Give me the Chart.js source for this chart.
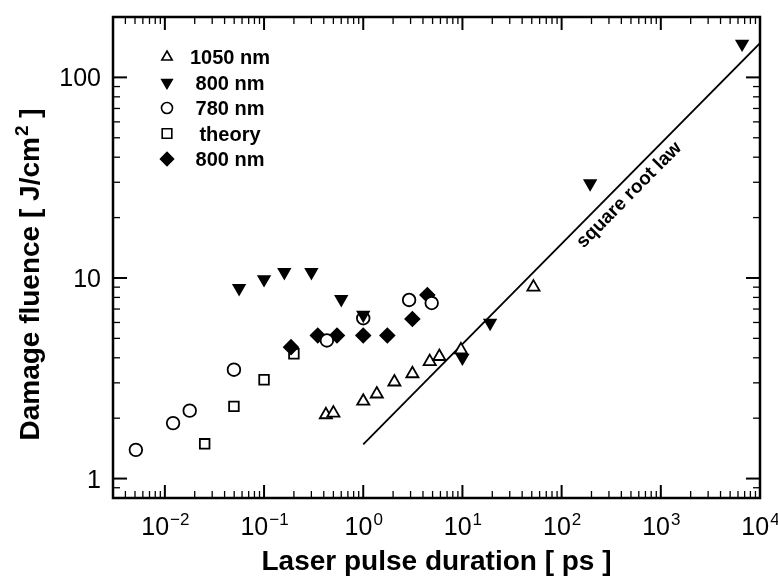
<!DOCTYPE html>
<html>
<head>
<meta charset="utf-8">
<script src="https://cdn.jsdelivr.net/npm/chart.js@4.4.1/dist/chart.umd.min.js"></script>
<style>
  html, body { margin: 0; padding: 0; background: #fff; }
  canvas { display: block; }
</style>
</head>
<body>
<canvas id="fluenceChart" width="778" height="579"></canvas>
<script>
// ── data (pulse duration in ps, fluence in J/cm²) ──
const tri1050X  = [0.42, 0.50, 1.0, 1.37, 2.06, 3.13, 4.68, 5.85, 9.66, 52];
const tri1050Y  = [2.08, 2.12, 2.43, 2.64, 3.03, 3.33, 3.83, 4.06, 4.38, 9.0];
const inv800X   = [0.056, 0.10, 0.16, 0.30, 0.60, 1.0, 10, 19, 194, 6600];
const inv800Y   = [8.9, 9.85, 10.7, 10.7, 7.84, 6.55, 4.0, 5.97, 29.6, 147];
const circ780X  = [0.0051, 0.0121, 0.0178, 0.0497, 0.43, 1.0, 2.9, 4.9];
const circ780Y  = [1.39, 1.89, 2.18, 3.49, 4.88, 6.3, 7.77, 7.5];
const theoryX   = [0.0252, 0.0497, 0.10, 0.20];
const theoryY   = [1.49, 2.29, 3.11, 4.19];
const diam800X  = [0.187, 0.348, 0.544, 1.0, 1.75, 3.13, 4.43];
const diam800Y  = [4.52, 5.17, 5.17, 5.17, 5.17, 6.25, 8.23];
const lawX      = [1, 10000];
const lawY      = [1.48, 148];

const legendLabels = ['1050 nm', '800 nm', '780 nm', 'theory', '800 nm'];
const xTickExps    = [-2, -1, 0, 1, 2, 3, 4];
const yTickVals    = [1, 10, 100];
const xTitle = 'Laser pulse duration [ ps ]';
const yTitle = ['Damage fluence [ J/cm', '2', ' ]'];
const lineLabel = 'square root law';
const lineLabelAt = { x: 480, y: 25.9 };

const FONT = '"Liberation Sans", Arial, Helvetica, sans-serif';

const pts = (xs, ys) => xs.map((x, i) => ({ x, y: ys[i] }));

const styles = [
  { pointStyle: 'triangle', rotation: 0,   fill: '#fff', r: 7,   lr: 6 },
  { pointStyle: 'triangle', rotation: 180, fill: '#000', r: 6.5, lr: 6 },
  { pointStyle: 'circle',   rotation: 0,   fill: '#fff', r: 6.3, lr: 5.5 },
  { pointStyle: 'rect',     rotation: 0,   fill: 'rgba(0,0,0,0)', r: 6.8, lr: 6.8 },
  { pointStyle: 'rectRot',  rotation: 0,   fill: '#000', r: 7,   lr: 6.5 },
];

function markerSet(label, data, s, order) {
  return {
    label, data, order, showLine: false,
    pointStyle: s.pointStyle, rotation: s.rotation,
    pointRadius: s.r, pointHoverRadius: s.r,
    pointBackgroundColor: s.fill, pointBorderColor: '#000', pointBorderWidth: 1.8,
  };
}

// ticks, frame, tick labels, titles and legend
const decor = {
  id: 'decor',
  afterDatasetsDraw(chart) {
    const { ctx, chartArea: a, scales: { x, y } } = chart;
    ctx.save();
    ctx.fillStyle = '#000';
    ctx.strokeStyle = '#000';

    const seg = (x1, y1, x2, y2) => { ctx.beginPath(); ctx.moveTo(x1, y1); ctx.lineTo(x2, y2); ctx.stroke(); };

    // x ticks (inside, both edges)
    for (let d = -3; d <= 4; d++) {
      for (let m = 1; m <= 9; m++) {
        const v = m * Math.pow(10, d);
        if (v < x.min * 0.999 || v > x.max * 1.001) continue;
        const px = x.getPixelForValue(v);
        const len = m === 1 ? 13 : 7;
        ctx.lineWidth = m === 1 ? 2 : 1.3;
        seg(px, a.bottom, px, a.bottom - len);
        seg(px, a.top, px, a.top + len);
      }
    }
    // y ticks
    for (let d = -1; d <= 2; d++) {
      for (let m = 1; m <= 9; m++) {
        const v = m * Math.pow(10, d);
        if (v < y.min * 0.999 || v > y.max * 1.001) continue;
        const py = y.getPixelForValue(v);
        const len = m === 1 ? 14 : 7;
        ctx.lineWidth = m === 1 ? 2 : 1.3;
        seg(a.left, py, a.left + len, py);
        seg(a.right, py, a.right - len, py);
      }
    }
    ctx.lineWidth = 2.5;
    ctx.strokeRect(a.left, a.top, a.right - a.left, a.bottom - a.top);

    // x tick labels 10^n
    ctx.textBaseline = 'alphabetic';
    ctx.textAlign = 'left';
    xTickExps.forEach(e => {
      const px = x.getPixelForValue(Math.pow(10, e));
      const base = '10', exp = e < 0 ? '\u2212' + (-e) : String(e);
      ctx.font = '25px ' + FONT;
      const wb = ctx.measureText(base).width;
      ctx.font = '17px ' + FONT;
      const we = ctx.measureText(exp).width;
      const x0 = px - (wb + we) / 2;
      ctx.font = '25px ' + FONT;
      ctx.fillText(base, x0, a.bottom + 37);
      ctx.font = '17px ' + FONT;
      ctx.fillText(exp, x0 + wb + 1, a.bottom + 27);
    });

    // y tick labels
    ctx.font = '25px ' + FONT;
    ctx.textAlign = 'right';
    yTickVals.forEach(v => {
      const py = y.getPixelForValue(v);
      ctx.fillText(String(v), a.left - 12, py + 9);
    });

    // x title
    ctx.font = 'bold 28px ' + FONT;
    ctx.textAlign = 'center';
    ctx.fillText(xTitle, (a.left + a.right) / 2, 570);

    // y title with superscript
    ctx.save();
    ctx.translate(39, 275);
    ctx.rotate(-Math.PI / 2);
    ctx.textAlign = 'left';
    ctx.font = 'bold 28px ' + FONT;
    const w0 = ctx.measureText(yTitle[0]).width;
    const w2 = ctx.measureText(yTitle[2]).width;
    ctx.font = 'bold 19px ' + FONT;
    const w1 = ctx.measureText(yTitle[1]).width;
    let tx = -(w0 + w1 + w2) / 2;
    ctx.font = 'bold 28px ' + FONT;
    ctx.fillText(yTitle[0], tx, 0);
    tx += w0;
    ctx.font = 'bold 19px ' + FONT;
    ctx.fillText(yTitle[1], tx + 1, -11);
    tx += w1 + 1;
    ctx.font = 'bold 28px ' + FONT;
    ctx.fillText(yTitle[2], tx, 0);
    ctx.restore();

    // label along the square root law line
    const p1 = { x: x.getPixelForValue(lawX[0]), y: y.getPixelForValue(lawY[0]) };
    const p2 = { x: x.getPixelForValue(lawX[1]), y: y.getPixelForValue(lawY[1]) };
    const ang = Math.atan2(p2.y - p1.y, p2.x - p1.x);
    ctx.save();
    ctx.translate(x.getPixelForValue(lineLabelAt.x), y.getPixelForValue(lineLabelAt.y));
    ctx.rotate(ang);
    ctx.font = 'bold 19px ' + FONT;
    ctx.textAlign = 'center';
    ctx.textBaseline = 'middle';
    ctx.fillText(lineLabel, 0, 0);
    ctx.restore();

    // legend
    legendLabels.forEach((lab, i) => {
      const s = styles[i];
      const ly = 57 + i * 25.5;
      ctx.fillStyle = s.fill;
      ctx.strokeStyle = '#000';
      ctx.lineWidth = 1.6;
      Chart.helpers.drawPoint(ctx, { pointStyle: s.pointStyle, rotation: s.rotation, radius: s.lr, borderWidth: 1.6 }, 167, ly);
      ctx.fillStyle = '#000';
      ctx.font = 'bold 20px ' + FONT;
      ctx.textAlign = 'center';
      ctx.textBaseline = 'alphabetic';
      ctx.fillText(lab, 230, ly + 7);
    });

    ctx.restore();
  }
};

new Chart(document.getElementById('fluenceChart'), {
  type: 'scatter',
  data: {
    datasets: [
      markerSet(legendLabels[0], pts(tri1050X, tri1050Y), styles[0], 1),
      markerSet(legendLabels[1], pts(inv800X, inv800Y), styles[1], 2),
      markerSet(legendLabels[2], pts(circ780X, circ780Y), styles[2], 3),
      markerSet(legendLabels[3], pts(theoryX, theoryY), styles[3], 4),
      markerSet(legendLabels[4], pts(diam800X, diam800Y), styles[4], 5),
      { type: 'line', label: lineLabel, data: pts(lawX, lawY), order: 6,
        borderColor: '#000', borderWidth: 1.8, pointRadius: 0, fill: false, tension: 0 },
    ]
  },
  options: {
    responsive: false,
    animation: false,
    layout: { padding: { left: 113, right: 18, top: 17, bottom: 81 } },
    plugins: { legend: { display: false }, tooltip: { enabled: false } },
    scales: {
      x: { type: 'logarithmic', min: 0.003, max: 10000, display: false },
      y: { type: 'logarithmic', min: 0.8, max: 200, display: false },
    }
  },
  plugins: [decor]
});
</script>
</body>
</html>
